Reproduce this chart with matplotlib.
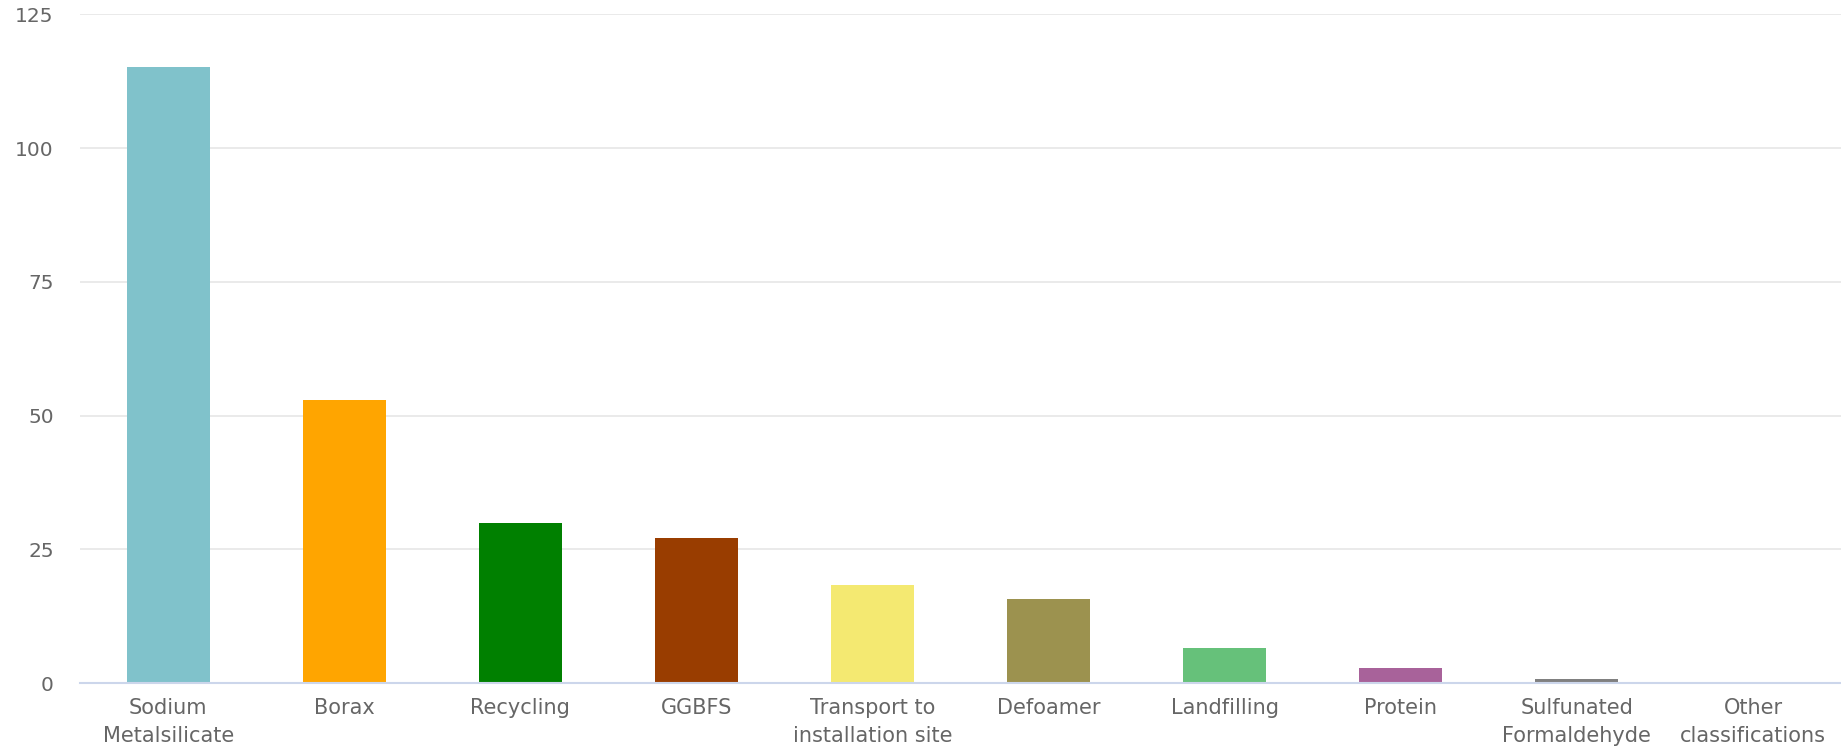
import matplotlib
matplotlib.use("Agg")
import matplotlib.pyplot as plt

categories = ["Sodium\nMetalsilicate", "Borax", "Recycling", "GGBFS",
              "Transport to\ninstallation site", "Defoamer", "Landfilling",
              "Protein", "Sulfunated\nFormaldehyde", "Other\nclassifications"]
values = [115.2, 52.9, 29.9, 27.1, 18.4, 15.8, 6.5, 2.9, 0.8, 0.0]
colors = ["#80c2cb", "#ffa500", "#008000", "#993d00", "#f4e971",
          "#9c924f", "#66c17a", "#a8629a", "#808080", "#cccccc"]
yticks = [0, 25, 50, 75, 100, 125]

fig = plt.figure(figsize=(18.41, 7.51), dpi=100)
ax = fig.add_axes([0.0435, 0.0905, 0.9565, 0.8905])
x = list(range(len(categories)))
ax.bar(x, values, width=0.47, color=colors, zorder=3)
ax.set_xlim(-0.5, len(categories) - 0.5)
ax.set_ylim(0, 125)
ax.set_yticks(yticks)
ax.set_yticklabels([str(t) for t in yticks], fontsize=14.5, color="#666666", family="DejaVu Sans")
ax.set_xticks(x)
ax.set_xticklabels(categories, fontsize=15, color="#666666", family="DejaVu Sans Condensed", linespacing=1.45)
ax.tick_params(axis="both", length=0)
ax.tick_params(axis="x", pad=11)
ax.tick_params(axis="y", pad=19)
ax.grid(axis="y", color="#e6e6e6", linewidth=1.2, zorder=0)
for s in ["top", "right", "left"]:
    ax.spines[s].set_visible(False)
ax.spines["bottom"].set_color("#ccd6eb")
ax.spines["bottom"].set_linewidth(1.5)
ax.spines["bottom"].set_zorder(4)
fig.savefig("out.png", dpi=100)
